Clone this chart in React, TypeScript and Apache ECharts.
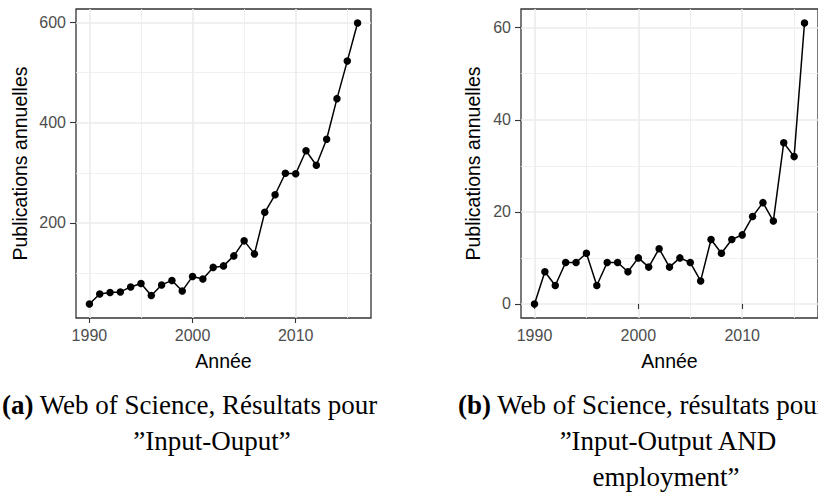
import React, { useEffect, useRef } from "react";
import * as echarts from "echarts";

const years = [1990,1991,1992,1993,1994,1995,1996,1997,1998,1999,2000,2001,2002,2003,2004,2005,2006,2007,2008,2009,2010,2011,2012,2013,2014,2015,2016];
const pubsInputOutput = [38,58,61,62,72,79,55,76,85,64,93,88,111,114,134,164,138,221,256,299,298,344,315,367,448,523,599];
const pubsEmployment = [0,7,4,9,9,11,4,9,9,7,10,8,12,8,10,9,5,14,11,14,15,19,22,18,35,32,61];

const xTicks = [1990, 2000, 2010];
const xMinor = [1995, 2005, 2015];
const yTicksA = [200, 400, 600];
const yMinorA = [100, 300, 500];
const yTicksB = [0, 20, 40, 60];
const yMinorB = [10, 30, 50];

const xTitle = "Année";
const yTitle = "Publications annuelles";
const captionA1 = "Web of Science, Résultats pour";
const captionA2 = "”Input-Ouput”";
const captionB1 = "Web of Science, résultats pour";
const captionB2 = "”Input-Output AND";
const captionB3 = "employment”";

const SANS = "'Liberation Sans', Arial, Helvetica, sans-serif";
const SERIF = "'Liberation Serif', 'Times New Roman', serif";
const CAP = 27;

function expand(vals: number[]) {
  const mn = Math.min(...vals);
  const mx = Math.max(...vals);
  const d = (mx - mn) * 0.05;
  return [mn - d, mx + d];
}

export default function App() {
  const ref = useRef<HTMLDivElement>(null);
  useEffect(() => {
    if (!ref.current) return;
    const chart = echarts.init(ref.current, null, { renderer: "svg" });
    const [xMin, xMax] = expand(years);
    const [yaMin, yaMax] = expand(pubsInputOutput);
    const [ybMin, ybMax] = expand(pubsEmployment);

    const grids = [
      { left: 76, top: 9, width: 295, height: 309 },
      { left: 521, top: 9, width: 303, height: 309 },
    ];

    const mainX = (gi: number) => ({
      type: "value",
      gridIndex: gi,
      min: xMin,
      max: xMax,
      position: "bottom",
      name: xTitle,
      nameLocation: "middle",
      nameGap: 33,
      nameTextStyle: { fontFamily: SANS, fontSize: 19.5, color: "#000" },
      axisLine: { show: false },
      axisTick: { show: true, customValues: xTicks, length: 5, lineStyle: { color: "#333", width: 1.1 } },
      axisLabel: { customValues: xTicks, formatter: (v: number) => String(Math.round(v)), fontFamily: SANS, fontSize: 16, color: "#4D4D4D", margin: 9 },
      splitLine: { show: true, lineStyle: { color: "#EBEBEB", width: 1.6 } },
    });
    const minorX = (gi: number) => ({
      type: "value",
      gridIndex: gi,
      min: xMin,
      max: xMax,
      position: "top",
      axisLine: { show: false },
      axisTick: { show: false, customValues: xMinor },
      axisLabel: { show: false },
      splitLine: { show: true, lineStyle: { color: "#EEEEEE", width: 0.9 } },
    });
    const mainY = (gi: number, mn: number, mx: number, ticks: number[], gap: number) => ({
      type: "value",
      gridIndex: gi,
      min: mn,
      max: mx,
      position: "left",
      name: yTitle,
      nameLocation: "middle",
      nameGap: gap,
      nameTextStyle: { fontFamily: SANS, fontSize: 19.5, color: "#000" },
      axisLine: { show: false },
      axisTick: { show: true, customValues: ticks, length: 6, lineStyle: { color: "#333", width: 1.1 } },
      axisLabel: { customValues: ticks, formatter: (v: number) => String(Math.round(v)), fontFamily: SANS, fontSize: 16, color: "#4D4D4D", margin: 10 },
      splitLine: { show: true, lineStyle: { color: "#EBEBEB", width: 1.6 } },
    });
    const minorY = (gi: number, mn: number, mx: number, ticks: number[]) => ({
      type: "value",
      gridIndex: gi,
      min: mn,
      max: mx,
      position: "right",
      axisLine: { show: false },
      axisTick: { show: false, customValues: ticks },
      axisLabel: { show: false },
      splitLine: { show: true, lineStyle: { color: "#EEEEEE", width: 0.9 } },
    });

    const lineSeries = (xi: number, yi: number, vals: number[]) => ({
      type: "line",
      xAxisIndex: xi,
      yAxisIndex: yi,
      data: years.map((y, i) => [y, vals[i]]),
      symbol: "circle",
      symbolSize: 7.5,
      itemStyle: { color: "#000" },
      lineStyle: { color: "#000", width: 1.5 },
      z: 5,
    });

    const capText = (x: number, y: number, text: string, align: string) => ({
      type: "text",
      x,
      y,
      style: {
        text,
        fontFamily: SERIF,
        fontSize: CAP,
        fill: "#000",
        align,
        verticalAlign: "middle",
        rich: { b: { fontWeight: "bold", fontFamily: SERIF, fontSize: CAP, fill: "#000" } },
      },
    });

    chart.setOption({
      animation: false,
      grid: grids.map((g) => ({ ...g, show: true, borderColor: "#333333", borderWidth: 1.3, backgroundColor: "transparent" })),
      xAxis: [mainX(0), minorX(0), mainX(1), minorX(1)],
      yAxis: [
        mainY(0, yaMin, yaMax, yTicksA, 46),
        minorY(0, yaMin, yaMax, yMinorA),
        mainY(1, ybMin, ybMax, yTicksB, 38),
        minorY(1, ybMin, ybMax, yMinorB),
      ],
      series: [lineSeries(0, 0, pubsInputOutput), lineSeries(2, 2, pubsEmployment)],
      graphic: [
        capText(2, 405, "{b|(a)} " + captionA1, "left"),
        capText(212, 441, captionA2, "center"),
        capText(458, 405, "{b|(b)} " + captionB1, "left"),
        capText(668, 441, captionB2, "center"),
        capText(666, 477, captionB3, "center"),
      ],
    });
    return () => chart.dispose();
  }, []);
  return <div ref={ref} style={{ position: "absolute", left: 0, top: 0, width: 818, height: 493, background: "#fff" }} />;
}
